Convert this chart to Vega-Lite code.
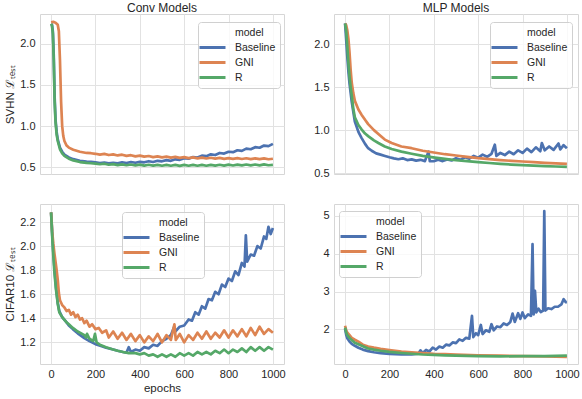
{
"$schema":"https://vega.github.io/schema/vega-lite/v6.json",
"padding":{"left":4,"top":1,"right":5,"bottom":4},
"background":"white",
"config":{
 "font":"Liberation Sans",
 "view":{"stroke":"#d6d6d6","strokeWidth":1},
 "axis":{"gridColor":"#e2e2e2","gridWidth":1,"domain":false,"ticks":false,"labelFontSize":11,"labelColor":"#262626","titleFontSize":11.5,"titleColor":"#262626","titleFontWeight":"normal","labelPadding":5,"titlePadding":4},
 "title":{"fontSize":12,"fontWeight":"normal","color":"#262626","offset":-1},
 "legend":{"orient":"none","symbolType":"M-2.6,0H2.6","symbolSize":100,"symbolOffset":4,"symbolStrokeWidth":3,"labelFontSize":10.5,"labelColor":"#262626","fillColor":"rgba(255,255,255,0.8)","strokeColor":"#d0d0d0","cornerRadius":3,"padding":4,"rowPadding":2,"labelOffset":16}
},
"datasets":{
"d1":[
{"m":"B","e":0,"v":2.24},{"m":"B","e":4,"v":2.23},{"m":"B","e":8,"v":2.15},{"m":"B","e":12,"v":1.85},{"m":"B","e":16,"v":1.35},{"m":"B","e":20,"v":1.08},{"m":"B","e":25,"v":0.93},{"m":"B","e":30,"v":0.84},{"m":"B","e":40,"v":0.74},{"m":"B","e":50,"v":0.69},{"m":"B","e":60,"v":0.655},{"m":"B","e":80,"v":0.62},{"m":"B","e":100,"v":0.6},{"m":"B","e":130,"v":0.58},{"m":"B","e":160,"v":0.57},{"m":"B","e":180,"v":0.566},{"m":"B","e":200,"v":0.56},{"m":"B","e":220,"v":0.552},{"m":"B","e":240,"v":0.558},{"m":"B","e":260,"v":0.548},{"m":"B","e":280,"v":0.556},{"m":"B","e":300,"v":0.55},{"m":"B","e":320,"v":0.562},{"m":"B","e":340,"v":0.553},{"m":"B","e":360,"v":0.565},{"m":"B","e":380,"v":0.556},{"m":"B","e":400,"v":0.568},{"m":"B","e":420,"v":0.562},{"m":"B","e":440,"v":0.575},{"m":"B","e":460,"v":0.566},{"m":"B","e":480,"v":0.58},{"m":"B","e":500,"v":0.574},{"m":"B","e":520,"v":0.588},{"m":"B","e":540,"v":0.58},{"m":"B","e":560,"v":0.598},{"m":"B","e":580,"v":0.592},{"m":"B","e":600,"v":0.612},{"m":"B","e":620,"v":0.606},{"m":"B","e":640,"v":0.626},{"m":"B","e":660,"v":0.62},{"m":"B","e":680,"v":0.642},{"m":"B","e":700,"v":0.636},{"m":"B","e":720,"v":0.658},{"m":"B","e":740,"v":0.65},{"m":"B","e":760,"v":0.675},{"m":"B","e":780,"v":0.668},{"m":"B","e":800,"v":0.69},{"m":"B","e":820,"v":0.685},{"m":"B","e":840,"v":0.708},{"m":"B","e":860,"v":0.7},{"m":"B","e":880,"v":0.728},{"m":"B","e":900,"v":0.72},{"m":"B","e":920,"v":0.745},{"m":"B","e":940,"v":0.738},{"m":"B","e":960,"v":0.765},{"m":"B","e":980,"v":0.758},{"m":"B","e":1000,"v":0.785},
{"m":"G","e":0,"v":2.26},{"m":"G","e":10,"v":2.265},{"m":"G","e":20,"v":2.255},{"m":"G","e":30,"v":2.23},{"m":"G","e":35,"v":2.15},{"m":"G","e":40,"v":1.8},{"m":"G","e":45,"v":1.3},{"m":"G","e":50,"v":1.0},{"m":"G","e":55,"v":0.88},{"m":"G","e":60,"v":0.82},{"m":"G","e":70,"v":0.765},{"m":"G","e":80,"v":0.74},{"m":"G","e":100,"v":0.715},{"m":"G","e":130,"v":0.69},{"m":"G","e":160,"v":0.675},{"m":"G","e":180,"v":0.672},{"m":"G","e":200,"v":0.665},{"m":"G","e":220,"v":0.655},{"m":"G","e":240,"v":0.664},{"m":"G","e":260,"v":0.65},{"m":"G","e":280,"v":0.658},{"m":"G","e":300,"v":0.645},{"m":"G","e":320,"v":0.654},{"m":"G","e":340,"v":0.64},{"m":"G","e":360,"v":0.648},{"m":"G","e":380,"v":0.634},{"m":"G","e":400,"v":0.643},{"m":"G","e":420,"v":0.63},{"m":"G","e":440,"v":0.638},{"m":"G","e":460,"v":0.625},{"m":"G","e":480,"v":0.634},{"m":"G","e":500,"v":0.622},{"m":"G","e":520,"v":0.63},{"m":"G","e":540,"v":0.618},{"m":"G","e":560,"v":0.627},{"m":"G","e":580,"v":0.615},{"m":"G","e":600,"v":0.624},{"m":"G","e":620,"v":0.612},{"m":"G","e":640,"v":0.621},{"m":"G","e":660,"v":0.61},{"m":"G","e":680,"v":0.619},{"m":"G","e":700,"v":0.608},{"m":"G","e":720,"v":0.617},{"m":"G","e":740,"v":0.606},{"m":"G","e":760,"v":0.615},{"m":"G","e":780,"v":0.604},{"m":"G","e":800,"v":0.613},{"m":"G","e":820,"v":0.603},{"m":"G","e":840,"v":0.612},{"m":"G","e":860,"v":0.602},{"m":"G","e":880,"v":0.611},{"m":"G","e":900,"v":0.601},{"m":"G","e":920,"v":0.61},{"m":"G","e":940,"v":0.6},{"m":"G","e":960,"v":0.609},{"m":"G","e":980,"v":0.599},{"m":"G","e":1000,"v":0.605},
{"m":"R","e":0,"v":2.24},{"m":"R","e":4,"v":2.22},{"m":"R","e":8,"v":2.12},{"m":"R","e":12,"v":1.8},{"m":"R","e":16,"v":1.3},{"m":"R","e":20,"v":1.05},{"m":"R","e":25,"v":0.9},{"m":"R","e":30,"v":0.82},{"m":"R","e":40,"v":0.72},{"m":"R","e":50,"v":0.67},{"m":"R","e":60,"v":0.64},{"m":"R","e":80,"v":0.605},{"m":"R","e":100,"v":0.585},{"m":"R","e":130,"v":0.565},{"m":"R","e":160,"v":0.555},{"m":"R","e":180,"v":0.55},{"m":"R","e":200,"v":0.545},{"m":"R","e":220,"v":0.538},{"m":"R","e":240,"v":0.545},{"m":"R","e":260,"v":0.532},{"m":"R","e":280,"v":0.54},{"m":"R","e":300,"v":0.528},{"m":"R","e":320,"v":0.537},{"m":"R","e":340,"v":0.526},{"m":"R","e":360,"v":0.535},{"m":"R","e":380,"v":0.524},{"m":"R","e":400,"v":0.533},{"m":"R","e":420,"v":0.522},{"m":"R","e":440,"v":0.532},{"m":"R","e":460,"v":0.521},{"m":"R","e":480,"v":0.531},{"m":"R","e":500,"v":0.52},{"m":"R","e":520,"v":0.53},{"m":"R","e":540,"v":0.52},{"m":"R","e":560,"v":0.53},{"m":"R","e":580,"v":0.519},{"m":"R","e":600,"v":0.53},{"m":"R","e":620,"v":0.52},{"m":"R","e":640,"v":0.531},{"m":"R","e":660,"v":0.52},{"m":"R","e":680,"v":0.53},{"m":"R","e":700,"v":0.52},{"m":"R","e":720,"v":0.531},{"m":"R","e":740,"v":0.521},{"m":"R","e":760,"v":0.532},{"m":"R","e":780,"v":0.522},{"m":"R","e":800,"v":0.533},{"m":"R","e":820,"v":0.523},{"m":"R","e":840,"v":0.534},{"m":"R","e":860,"v":0.524},{"m":"R","e":880,"v":0.535},{"m":"R","e":900,"v":0.525},{"m":"R","e":920,"v":0.535},{"m":"R","e":940,"v":0.525},{"m":"R","e":960,"v":0.536},{"m":"R","e":980,"v":0.526},{"m":"R","e":1000,"v":0.53}
],
"d2":[
{"m":"B","e":0,"v":2.24},{"m":"B","e":5,"v":2.05},{"m":"B","e":10,"v":1.85},{"m":"B","e":15,"v":1.68},{"m":"B","e":20,"v":1.54},{"m":"B","e":30,"v":1.33},{"m":"B","e":44,"v":1.1},{"m":"B","e":60,"v":0.98},{"m":"B","e":74,"v":0.91},{"m":"B","e":90,"v":0.84},{"m":"B","e":104,"v":0.79},{"m":"B","e":120,"v":0.76},{"m":"B","e":140,"v":0.73},{"m":"B","e":160,"v":0.715},{"m":"B","e":180,"v":0.7},{"m":"B","e":200,"v":0.685},{"m":"B","e":220,"v":0.672},{"m":"B","e":240,"v":0.662},{"m":"B","e":260,"v":0.672},{"m":"B","e":280,"v":0.652},{"m":"B","e":300,"v":0.66},{"m":"B","e":320,"v":0.645},{"m":"B","e":340,"v":0.655},{"m":"B","e":360,"v":0.64},{"m":"B","e":376,"v":0.75},{"m":"B","e":382,"v":0.638},{"m":"B","e":400,"v":0.64},{"m":"B","e":420,"v":0.655},{"m":"B","e":440,"v":0.64},{"m":"B","e":460,"v":0.66},{"m":"B","e":480,"v":0.648},{"m":"B","e":500,"v":0.672},{"m":"B","e":520,"v":0.655},{"m":"B","e":540,"v":0.685},{"m":"B","e":560,"v":0.668},{"m":"B","e":580,"v":0.7},{"m":"B","e":600,"v":0.68},{"m":"B","e":620,"v":0.715},{"m":"B","e":640,"v":0.69},{"m":"B","e":660,"v":0.725},{"m":"B","e":675,"v":0.83},{"m":"B","e":682,"v":0.7},{"m":"B","e":700,"v":0.735},{"m":"B","e":720,"v":0.71},{"m":"B","e":740,"v":0.75},{"m":"B","e":760,"v":0.72},{"m":"B","e":780,"v":0.765},{"m":"B","e":800,"v":0.735},{"m":"B","e":820,"v":0.785},{"m":"B","e":840,"v":0.745},{"m":"B","e":860,"v":0.8},{"m":"B","e":880,"v":0.755},{"m":"B","e":887,"v":0.85},{"m":"B","e":900,"v":0.765},{"m":"B","e":920,"v":0.81},{"m":"B","e":940,"v":0.77},{"m":"B","e":962,"v":0.845},{"m":"B","e":970,"v":0.775},{"m":"B","e":985,"v":0.825},{"m":"B","e":1000,"v":0.79},
{"m":"G","e":0,"v":2.24},{"m":"G","e":5,"v":2.22},{"m":"G","e":10,"v":2.16},{"m":"G","e":15,"v":2.06},{"m":"G","e":20,"v":1.9},{"m":"G","e":25,"v":1.7},{"m":"G","e":30,"v":1.55},{"m":"G","e":37,"v":1.43},{"m":"G","e":44,"v":1.34},{"m":"G","e":60,"v":1.24},{"m":"G","e":74,"v":1.18},{"m":"G","e":90,"v":1.12},{"m":"G","e":104,"v":1.07},{"m":"G","e":130,"v":1.0},{"m":"G","e":150,"v":0.955},{"m":"G","e":179,"v":0.89},{"m":"G","e":210,"v":0.85},{"m":"G","e":254,"v":0.81},{"m":"G","e":300,"v":0.79},{"m":"G","e":350,"v":0.76},{"m":"G","e":400,"v":0.74},{"m":"G","e":450,"v":0.72},{"m":"G","e":500,"v":0.705},{"m":"G","e":550,"v":0.69},{"m":"G","e":600,"v":0.675},{"m":"G","e":650,"v":0.663},{"m":"G","e":700,"v":0.652},{"m":"G","e":750,"v":0.643},{"m":"G","e":800,"v":0.635},{"m":"G","e":850,"v":0.627},{"m":"G","e":900,"v":0.62},{"m":"G","e":950,"v":0.613},{"m":"G","e":1000,"v":0.607},
{"m":"R","e":0,"v":2.24},{"m":"R","e":5,"v":2.15},{"m":"R","e":10,"v":1.97},{"m":"R","e":15,"v":1.78},{"m":"R","e":20,"v":1.62},{"m":"R","e":25,"v":1.5},{"m":"R","e":30,"v":1.4},{"m":"R","e":37,"v":1.25},{"m":"R","e":44,"v":1.15},{"m":"R","e":60,"v":1.06},{"m":"R","e":74,"v":1.01},{"m":"R","e":90,"v":0.96},{"m":"R","e":104,"v":0.93},{"m":"R","e":130,"v":0.88},{"m":"R","e":150,"v":0.85},{"m":"R","e":179,"v":0.81},{"m":"R","e":210,"v":0.78},{"m":"R","e":254,"v":0.75},{"m":"R","e":300,"v":0.725},{"m":"R","e":350,"v":0.7},{"m":"R","e":405,"v":0.68},{"m":"R","e":450,"v":0.665},{"m":"R","e":500,"v":0.65},{"m":"R","e":550,"v":0.64},{"m":"R","e":600,"v":0.628},{"m":"R","e":650,"v":0.618},{"m":"R","e":700,"v":0.608},{"m":"R","e":750,"v":0.6},{"m":"R","e":800,"v":0.593},{"m":"R","e":850,"v":0.587},{"m":"R","e":900,"v":0.582},{"m":"R","e":950,"v":0.577},{"m":"R","e":1000,"v":0.572}
],
"d3":[
{"m":"B","e":0,"v":2.28},{"m":"B","e":5,"v":2.1},{"m":"B","e":10,"v":1.95},{"m":"B","e":15,"v":1.82},{"m":"B","e":22,"v":1.66},{"m":"B","e":30,"v":1.53},{"m":"B","e":37,"v":1.46},{"m":"B","e":50,"v":1.41},{"m":"B","e":68,"v":1.37},{"m":"B","e":80,"v":1.34},{"m":"B","e":98,"v":1.31},{"m":"B","e":120,"v":1.275},{"m":"B","e":150,"v":1.235},{"m":"B","e":173,"v":1.21},{"m":"B","e":200,"v":1.185},{"m":"B","e":225,"v":1.17},{"m":"B","e":248,"v":1.155},{"m":"B","e":280,"v":1.14},{"m":"B","e":300,"v":1.13},{"m":"B","e":324,"v":1.12},{"m":"B","e":340,"v":1.115},{"m":"B","e":350,"v":1.16},{"m":"B","e":360,"v":1.12},{"m":"B","e":380,"v":1.14},{"m":"B","e":400,"v":1.13},{"m":"B","e":420,"v":1.16},{"m":"B","e":440,"v":1.15},{"m":"B","e":460,"v":1.18},{"m":"B","e":480,"v":1.17},{"m":"B","e":500,"v":1.21},{"m":"B","e":520,"v":1.23},{"m":"B","e":540,"v":1.26},{"m":"B","e":555,"v":1.33},{"m":"B","e":560,"v":1.29},{"m":"B","e":580,"v":1.33},{"m":"B","e":600,"v":1.34},{"m":"B","e":620,"v":1.39},{"m":"B","e":635,"v":1.38},{"m":"B","e":650,"v":1.45},{"m":"B","e":665,"v":1.43},{"m":"B","e":680,"v":1.5},{"m":"B","e":695,"v":1.48},{"m":"B","e":710,"v":1.56},{"m":"B","e":725,"v":1.55},{"m":"B","e":740,"v":1.62},{"m":"B","e":755,"v":1.6},{"m":"B","e":770,"v":1.68},{"m":"B","e":785,"v":1.66},{"m":"B","e":800,"v":1.73},{"m":"B","e":815,"v":1.71},{"m":"B","e":830,"v":1.79},{"m":"B","e":845,"v":1.76},{"m":"B","e":860,"v":1.86},{"m":"B","e":872,"v":1.83},{"m":"B","e":878,"v":2.09},{"m":"B","e":884,"v":1.87},{"m":"B","e":900,"v":1.93},{"m":"B","e":915,"v":1.92},{"m":"B","e":930,"v":2.0},{"m":"B","e":945,"v":1.98},{"m":"B","e":960,"v":2.08},{"m":"B","e":970,"v":2.06},{"m":"B","e":980,"v":2.16},{"m":"B","e":990,"v":2.1},{"m":"B","e":1000,"v":2.15},
{"m":"G","e":0,"v":2.28},{"m":"G","e":5,"v":2.12},{"m":"G","e":10,"v":2.02},{"m":"G","e":15,"v":1.94},{"m":"G","e":20,"v":1.87},{"m":"G","e":25,"v":1.8},{"m":"G","e":30,"v":1.72},{"m":"G","e":35,"v":1.61},{"m":"G","e":40,"v":1.55},{"m":"G","e":50,"v":1.51},{"m":"G","e":60,"v":1.49},{"m":"G","e":70,"v":1.46},{"m":"G","e":80,"v":1.47},{"m":"G","e":90,"v":1.43},{"m":"G","e":100,"v":1.45},{"m":"G","e":110,"v":1.41},{"m":"G","e":120,"v":1.43},{"m":"G","e":130,"v":1.39},{"m":"G","e":140,"v":1.4},{"m":"G","e":150,"v":1.36},{"m":"G","e":160,"v":1.38},{"m":"G","e":173,"v":1.33},{"m":"G","e":185,"v":1.35},{"m":"G","e":200,"v":1.31},{"m":"G","e":215,"v":1.32},{"m":"G","e":230,"v":1.28},{"m":"G","e":248,"v":1.3},{"m":"G","e":260,"v":1.24},{"m":"G","e":280,"v":1.29},{"m":"G","e":300,"v":1.23},{"m":"G","e":320,"v":1.28},{"m":"G","e":340,"v":1.22},{"m":"G","e":360,"v":1.27},{"m":"G","e":380,"v":1.21},{"m":"G","e":400,"v":1.26},{"m":"G","e":420,"v":1.2},{"m":"G","e":440,"v":1.25},{"m":"G","e":460,"v":1.21},{"m":"G","e":480,"v":1.27},{"m":"G","e":500,"v":1.2},{"m":"G","e":520,"v":1.26},{"m":"G","e":540,"v":1.22},{"m":"G","e":556,"v":1.35},{"m":"G","e":562,"v":1.22},{"m":"G","e":580,"v":1.27},{"m":"G","e":600,"v":1.2},{"m":"G","e":620,"v":1.26},{"m":"G","e":640,"v":1.22},{"m":"G","e":660,"v":1.28},{"m":"G","e":680,"v":1.23},{"m":"G","e":700,"v":1.29},{"m":"G","e":720,"v":1.23},{"m":"G","e":740,"v":1.28},{"m":"G","e":760,"v":1.24},{"m":"G","e":780,"v":1.3},{"m":"G","e":800,"v":1.24},{"m":"G","e":820,"v":1.3},{"m":"G","e":840,"v":1.25},{"m":"G","e":860,"v":1.31},{"m":"G","e":880,"v":1.25},{"m":"G","e":900,"v":1.32},{"m":"G","e":920,"v":1.26},{"m":"G","e":940,"v":1.33},{"m":"G","e":960,"v":1.27},{"m":"G","e":980,"v":1.31},{"m":"G","e":1000,"v":1.28},
{"m":"R","e":0,"v":2.28},{"m":"R","e":5,"v":2.08},{"m":"R","e":10,"v":1.92},{"m":"R","e":15,"v":1.78},{"m":"R","e":22,"v":1.64},{"m":"R","e":30,"v":1.52},{"m":"R","e":37,"v":1.45},{"m":"R","e":50,"v":1.41},{"m":"R","e":68,"v":1.37},{"m":"R","e":80,"v":1.35},{"m":"R","e":98,"v":1.32},{"m":"R","e":120,"v":1.29},{"m":"R","e":140,"v":1.27},{"m":"R","e":150,"v":1.26},{"m":"R","e":158,"v":1.24},{"m":"R","e":162,"v":1.27},{"m":"R","e":173,"v":1.23},{"m":"R","e":190,"v":1.21},{"m":"R","e":198,"v":1.27},{"m":"R","e":205,"v":1.2},{"m":"R","e":220,"v":1.18},{"m":"R","e":248,"v":1.16},{"m":"R","e":280,"v":1.14},{"m":"R","e":300,"v":1.13},{"m":"R","e":324,"v":1.12},{"m":"R","e":350,"v":1.11},{"m":"R","e":380,"v":1.11},{"m":"R","e":400,"v":1.1},{"m":"R","e":420,"v":1.11},{"m":"R","e":440,"v":1.09},{"m":"R","e":460,"v":1.1},{"m":"R","e":480,"v":1.08},{"m":"R","e":500,"v":1.1},{"m":"R","e":520,"v":1.08},{"m":"R","e":540,"v":1.1},{"m":"R","e":560,"v":1.08},{"m":"R","e":580,"v":1.11},{"m":"R","e":600,"v":1.09},{"m":"R","e":620,"v":1.11},{"m":"R","e":640,"v":1.09},{"m":"R","e":660,"v":1.12},{"m":"R","e":680,"v":1.1},{"m":"R","e":700,"v":1.12},{"m":"R","e":720,"v":1.1},{"m":"R","e":740,"v":1.13},{"m":"R","e":760,"v":1.11},{"m":"R","e":780,"v":1.14},{"m":"R","e":800,"v":1.11},{"m":"R","e":820,"v":1.14},{"m":"R","e":840,"v":1.12},{"m":"R","e":860,"v":1.15},{"m":"R","e":880,"v":1.12},{"m":"R","e":900,"v":1.16},{"m":"R","e":920,"v":1.13},{"m":"R","e":940,"v":1.16},{"m":"R","e":960,"v":1.13},{"m":"R","e":980,"v":1.16},{"m":"R","e":1000,"v":1.14}
],
"d4":[
{"m":"B","e":0,"v":2.02},{"m":"B","e":5,"v":1.86},{"m":"B","e":10,"v":1.77},{"m":"B","e":20,"v":1.68},{"m":"B","e":30,"v":1.62},{"m":"B","e":44,"v":1.57},{"m":"B","e":60,"v":1.52},{"m":"B","e":80,"v":1.47},{"m":"B","e":104,"v":1.43},{"m":"B","e":130,"v":1.4},{"m":"B","e":160,"v":1.375},{"m":"B","e":200,"v":1.355},{"m":"B","e":254,"v":1.34},{"m":"B","e":300,"v":1.34},{"m":"B","e":330,"v":1.36},{"m":"B","e":340,"v":1.45},{"m":"B","e":350,"v":1.38},{"m":"B","e":365,"v":1.46},{"m":"B","e":380,"v":1.42},{"m":"B","e":395,"v":1.52},{"m":"B","e":410,"v":1.47},{"m":"B","e":425,"v":1.55},{"m":"B","e":440,"v":1.52},{"m":"B","e":455,"v":1.6},{"m":"B","e":470,"v":1.58},{"m":"B","e":485,"v":1.66},{"m":"B","e":500,"v":1.64},{"m":"B","e":515,"v":1.74},{"m":"B","e":530,"v":1.7},{"m":"B","e":545,"v":1.78},{"m":"B","e":560,"v":1.76},{"m":"B","e":572,"v":2.36},{"m":"B","e":578,"v":1.8},{"m":"B","e":590,"v":1.9},{"m":"B","e":600,"v":1.85},{"m":"B","e":612,"v":2.12},{"m":"B","e":620,"v":1.88},{"m":"B","e":635,"v":1.98},{"m":"B","e":650,"v":1.94},{"m":"B","e":660,"v":2.14},{"m":"B","e":670,"v":1.98},{"m":"B","e":685,"v":2.08},{"m":"B","e":700,"v":2.06},{"m":"B","e":715,"v":2.16},{"m":"B","e":730,"v":2.12},{"m":"B","e":745,"v":2.2},{"m":"B","e":755,"v":2.42},{"m":"B","e":765,"v":2.2},{"m":"B","e":780,"v":2.43},{"m":"B","e":790,"v":2.28},{"m":"B","e":800,"v":2.45},{"m":"B","e":810,"v":2.3},{"m":"B","e":825,"v":2.4},{"m":"B","e":838,"v":2.36},{"m":"B","e":845,"v":4.25},{"m":"B","e":850,"v":2.4},{"m":"B","e":856,"v":3.02},{"m":"B","e":862,"v":2.45},{"m":"B","e":872,"v":2.55},{"m":"B","e":882,"v":2.46},{"m":"B","e":893,"v":2.5},{"m":"B","e":898,"v":5.12},{"m":"B","e":903,"v":2.5},{"m":"B","e":915,"v":2.56},{"m":"B","e":930,"v":2.54},{"m":"B","e":945,"v":2.6},{"m":"B","e":960,"v":2.6},{"m":"B","e":975,"v":2.66},{"m":"B","e":985,"v":2.8},{"m":"B","e":995,"v":2.72},{"m":"B","e":1000,"v":2.72},
{"m":"G","e":0,"v":2.1},{"m":"G","e":5,"v":1.98},{"m":"G","e":10,"v":1.92},{"m":"G","e":20,"v":1.85},{"m":"G","e":30,"v":1.78},{"m":"G","e":44,"v":1.73},{"m":"G","e":60,"v":1.68},{"m":"G","e":80,"v":1.6},{"m":"G","e":104,"v":1.55},{"m":"G","e":130,"v":1.52},{"m":"G","e":160,"v":1.49},{"m":"G","e":200,"v":1.46},{"m":"G","e":254,"v":1.42},{"m":"G","e":300,"v":1.4},{"m":"G","e":350,"v":1.38},{"m":"G","e":400,"v":1.36},{"m":"G","e":450,"v":1.35},{"m":"G","e":500,"v":1.34},{"m":"G","e":600,"v":1.32},{"m":"G","e":700,"v":1.31},{"m":"G","e":800,"v":1.3},{"m":"G","e":900,"v":1.29},{"m":"G","e":1000,"v":1.28},
{"m":"R","e":0,"v":2.05},{"m":"R","e":5,"v":1.92},{"m":"R","e":10,"v":1.85},{"m":"R","e":20,"v":1.78},{"m":"R","e":30,"v":1.72},{"m":"R","e":44,"v":1.65},{"m":"R","e":60,"v":1.61},{"m":"R","e":80,"v":1.56},{"m":"R","e":104,"v":1.5},{"m":"R","e":130,"v":1.47},{"m":"R","e":160,"v":1.44},{"m":"R","e":200,"v":1.41},{"m":"R","e":254,"v":1.38},{"m":"R","e":300,"v":1.36},{"m":"R","e":350,"v":1.34},{"m":"R","e":400,"v":1.33},{"m":"R","e":450,"v":1.32},{"m":"R","e":500,"v":1.31},{"m":"R","e":600,"v":1.3},{"m":"R","e":700,"v":1.29},{"m":"R","e":800,"v":1.3},{"m":"R","e":900,"v":1.3},{"m":"R","e":1000,"v":1.31}
]
},
"columns":2,
"spacing":{"row":30,"column":50},
"bounds":"flush",
"resolve":{"scale":{"color":"independent"},"legend":{"color":"independent"}},
"concat":[
{"width":244,"height":160,"title":"Conv Models","data":{"name":"d1"},
 "mark":{"type":"line","strokeWidth":2.7,"strokeJoin":"round"},
 "encoding":{
  "x":{"field":"e","type":"quantitative","scale":{"domain":[-50,1050],"nice":false},"axis":{"values":[0,200,400,600,800,1000],"labels":false,"title":null}},
  "y":{"field":"v","type":"quantitative","scale":{"domain":[0.42,2.36],"nice":false,"zero":false},"axis":{"values":[0.5,1,1.5,2],"format":".1f","title":"SVHN ℒₜₑₛₜ"}},
  "color":{"field":"m","type":"nominal","scale":{"domain":["model","B","G","R"],"range":["transparent","#4c72b0","#dd8452","#55a868"]},"legend":{"title":null,"legendX":158,"legendY":8,"labelExpr":"datum.value=='B'?'Baseline':datum.value=='G'?'GNI':datum.value"}}
 }},
{"width":244,"height":160,"title":"MLP Models","data":{"name":"d2"},
 "mark":{"type":"line","strokeWidth":2.7,"strokeJoin":"round"},
 "encoding":{
  "x":{"field":"e","type":"quantitative","scale":{"domain":[-50,1050],"nice":false},"axis":{"values":[0,200,400,600,800,1000],"labels":false,"title":null}},
  "y":{"field":"v","type":"quantitative","scale":{"domain":[0.49,2.35],"nice":false,"zero":false},"axis":{"values":[0.5,1,1.5,2],"format":".1f","title":null}},
  "color":{"field":"m","type":"nominal","scale":{"domain":["model","B","G","R"],"range":["transparent","#4c72b0","#dd8452","#55a868"]},"legend":{"title":null,"legendX":156,"legendY":8,"labelExpr":"datum.value=='B'?'Baseline':datum.value=='G'?'GNI':datum.value"}}
 }},
{"width":244,"height":160,"data":{"name":"d3"},
 "mark":{"type":"line","strokeWidth":2.7,"strokeJoin":"round"},
 "encoding":{
  "x":{"field":"e","type":"quantitative","scale":{"domain":[-50,1050],"nice":false},"axis":{"values":[0,200,400,600,800,1000],"format":"d","title":"epochs","labelPadding":4,"titlePadding":3}},
  "y":{"field":"v","type":"quantitative","scale":{"domain":[1.02,2.35],"nice":false,"zero":false},"axis":{"values":[1.2,1.4,1.6,1.8,2.0,2.2],"format":".1f","title":"CIFAR10 ℒₜₑₛₜ"}},
  "color":{"field":"m","type":"nominal","scale":{"domain":["model","B","G","R"],"range":["transparent","#4c72b0","#dd8452","#55a868"]},"legend":{"title":null,"legendX":82,"legendY":8,"labelExpr":"datum.value=='B'?'Baseline':datum.value=='G'?'GNI':datum.value"}}
 }},
{"width":244,"height":160,"data":{"name":"d4"},
 "mark":{"type":"line","strokeWidth":2.7,"strokeJoin":"round"},
 "encoding":{
  "x":{"field":"e","type":"quantitative","scale":{"domain":[-50,1050],"nice":false},"axis":{"values":[0,200,400,600,800,1000],"format":"d","title":null,"labelPadding":4}},
  "y":{"field":"v","type":"quantitative","scale":{"domain":[1.09,5.31],"nice":false,"zero":false},"axis":{"values":[2,3,4,5],"format":"d","title":null}},
  "color":{"field":"m","type":"nominal","scale":{"domain":["model","B","G","R"],"range":["transparent","#4c72b0","#dd8452","#55a868"]},"legend":{"title":null,"legendX":5,"legendY":7,"labelExpr":"datum.value=='B'?'Baseline':datum.value=='G'?'GNI':datum.value"}}
 }}
]
}
